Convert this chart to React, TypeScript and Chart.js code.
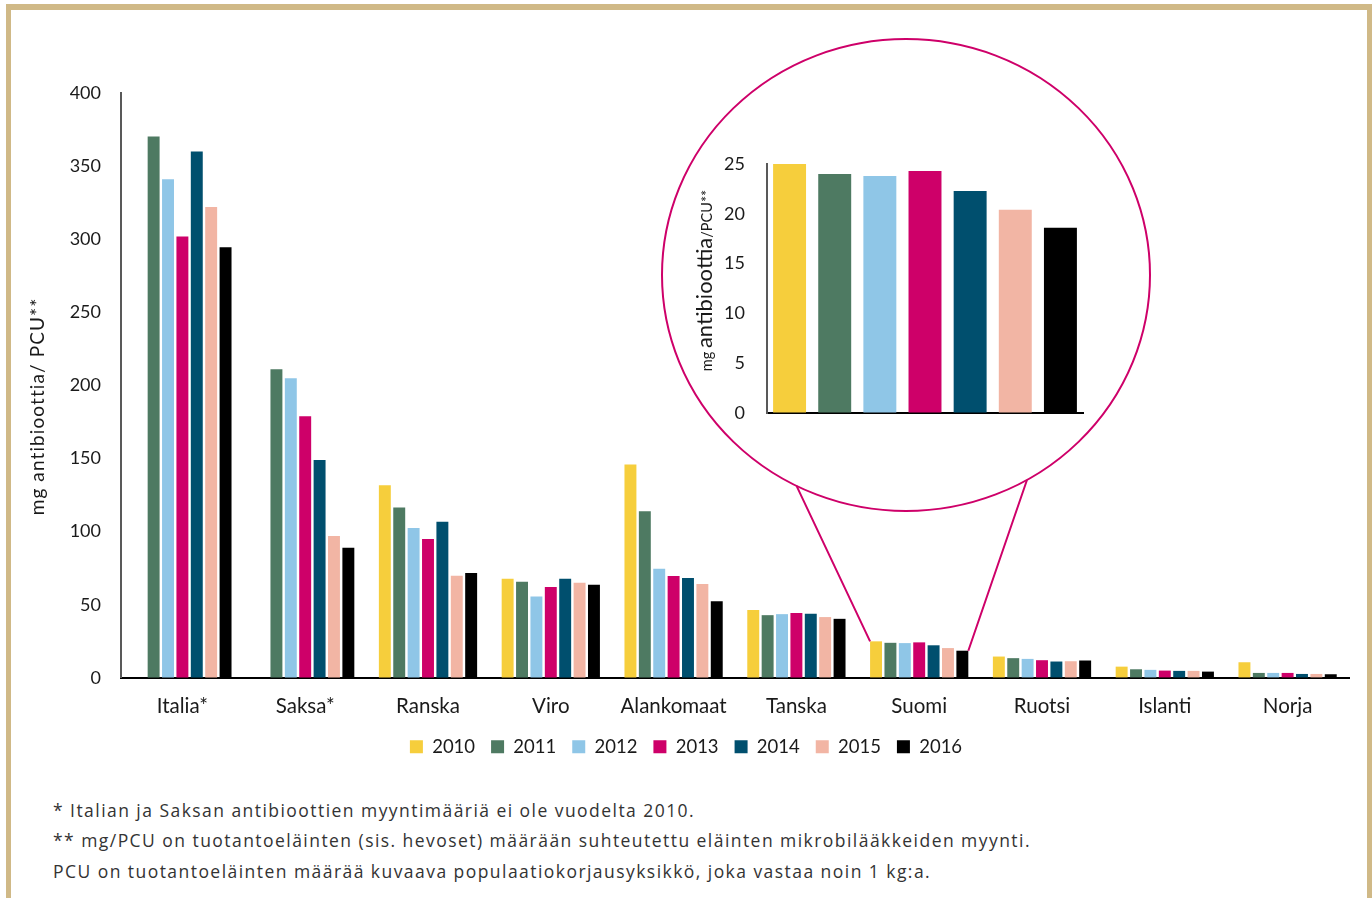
import React, { useEffect, useRef } from "react";
import { Chart, registerables } from "chart.js";

Chart.register(...registerables);

const categories = ["Italia*", "Saksa*", "Ranska", "Viro", "Alankomaat", "Tanska", "Suomi", "Ruotsi", "Islanti", "Norja"];
const years = ["2010", "2011", "2012", "2013", "2014", "2015", "2016"];
const colors = ["#F6CE3C", "#4E7A62", "#8FC6E7", "#CE0069", "#004F6E", "#F2B5A4", "#000000"];

const v2010 = [null, null, 131.8, 67.8, 145.9, 46.4, 25.0, 14.6, 7.7, 10.7];
const v2011 = [370.3, 211, 116.6, 65.8, 113.9, 42.9, 24.0, 13.5, 5.9, 3.4];
const v2012 = [341, 205, 102.5, 55.7, 74.7, 43.6, 23.8, 13.0, 5.5, 3.4];
const v2013 = [301.8, 179, 95, 62.1, 69.7, 44.3, 24.3, 12.1, 5.0, 3.4];
const v2014 = [360, 149, 106.8, 67.8, 68.3, 43.9, 22.3, 11.2, 4.8, 2.7];
const v2015 = [322, 97, 69.9, 65.1, 64.2, 41.6, 20.4, 11.4, 4.8, 2.7];
const v2016 = [294.5, 89, 71.7, 63.7, 52.5, 40.4, 18.6, 11.9, 4.3, 2.5];
const series = [v2010, v2011, v2012, v2013, v2014, v2015, v2016];

const yTicksMain = { min: 0, max: 400, step: 50 };
const yTicksInset = { min: 0, max: 25, step: 5 };
const zoomCategory = "Suomi";

const footnotes = [
  "* Italian ja Saksan antibioottien myyntimääriä ei ole vuodelta 2010.",
  "** mg/PCU on tuotantoeläinten (sis. hevoset) määrään suhteutettu eläinten mikrobilääkkeiden myynti.",
  "PCU on tuotantoeläinten määrää kuvaava populaatiokorjausyksikkö, joka vastaa noin 1 kg:a.",
];

const FONT = "Lato, 'Noto Sans', sans-serif";
const TEXT = "#1a1a1a";
const ACCENT = "#CE0069";

// decoration geometry (ellipse of the zoom inset)
const RING = {
  cx: 906,
  cy: 275,
  rx: 244,
  ry: 236,
  tLeft: Math.atan2(212 / 236, -110 / 244),
  tRight: Math.atan2(205 / 236, 121 / 244),
};

export default function App() {
  const mainRef = useRef<HTMLCanvasElement | null>(null);
  const insetRef = useRef<HTMLCanvasElement | null>(null);

  useEffect(() => {
    const zi = categories.indexOf(zoomCategory);

    const yTitlePlugin = {
      id: "yTitleMain",
      afterDraw(chart: any) {
        const { ctx, chartArea } = chart;
        ctx.save();
        ctx.translate(38, (chartArea.top + chartArea.bottom) / 2 + 21);
        ctx.rotate(-Math.PI / 2);
        ctx.font = `19px ${FONT}`;
        (ctx as any).letterSpacing = "1.1px";
        ctx.fillStyle = TEXT;
        ctx.textAlign = "center";
        ctx.textBaseline = "middle";
        ctx.fillText("mg antibioottia/ PCU**", 0, 0);
        ctx.restore();
      },
    };

    const zoomPlugin = {
      id: "zoomRing",
      afterDraw(chart: any) {
        const { ctx } = chart;
        const first = chart.getDatasetMeta(0).data[zi] as any;
        const last = chart.getDatasetMeta(series.length - 1).data[zi] as any;
        ctx.save();
        ctx.strokeStyle = ACCENT;
        ctx.lineWidth = 2;
        ctx.beginPath();
        ctx.ellipse(RING.cx, RING.cy, RING.rx, RING.ry, 0, 0, Math.PI * 2);
        ctx.fillStyle = "#ffffff";
        ctx.fill();
        ctx.stroke();
        ctx.beginPath();
        ctx.moveTo(RING.cx + RING.rx * Math.cos(RING.tLeft), RING.cy + RING.ry * Math.sin(RING.tLeft));
        ctx.lineTo(first.x - first.width / 2, first.y);
        ctx.moveTo(RING.cx + RING.rx * Math.cos(RING.tRight), RING.cy + RING.ry * Math.sin(RING.tRight));
        ctx.lineTo(last.x + last.width / 2, last.y);
        ctx.stroke();
        ctx.restore();
      },
    };

    const main = new Chart(mainRef.current as HTMLCanvasElement, {
      type: "bar",
      data: {
        labels: categories,
        datasets: series.map((d, i) => ({
          label: years[i],
          data: d as any,
          backgroundColor: colors[i],
          borderWidth: 0,
          categoryPercentage: 0.82,
          barPercentage: 0.83,
        })),
      },
      options: {
        animation: false,
        responsive: true,
        maintainAspectRatio: false,
        layout: { padding: { left: 0, right: 0, top: 93, bottom: 24 } },
        plugins: {
          legend: {
            position: "bottom",
            labels: {
              boxWidth: 13,
              boxHeight: 13,
              padding: 16,
              color: TEXT,
              font: { family: FONT, size: 18.5 },
            },
          },
          tooltip: { enabled: false },
        },
        scales: {
          x: {
            grid: { display: true, drawOnChartArea: false, drawTicks: false },
            border: { color: "#000000", width: 2 },
            ticks: { color: TEXT, font: { family: FONT, size: 20.5 }, padding: 16 },
            afterFit: (s: any) => {
              s.height = s.height - 13;
            },
          },
          y: {
            min: yTicksMain.min,
            max: yTicksMain.max,
            grid: { display: true, drawOnChartArea: false, drawTicks: false },
            border: { color: "#595959", width: 2 },
            ticks: { stepSize: yTicksMain.step, color: TEXT, font: { family: FONT, size: 18 }, padding: 20 },
            afterFit: (s: any) => {
              s.width = 121;
            },
          },
          yRight: {
            position: "right",
            display: true,
            grid: { display: false },
            border: { display: false },
            ticks: { display: false },
            afterFit: (s: any) => {
              s.width = 23;
            },
          },
        },
      },
      plugins: [yTitlePlugin, zoomPlugin],
    });

    const insetTitlePlugin = {
      id: "insetTitle",
      afterDraw(chart: any) {
        const { ctx, chartArea } = chart;
        const parts = [
          { t: "mg ", s: 14.5 },
          { t: "antibioottia", s: 22 },
          { t: "/PCU**", s: 14.5 },
        ];
        ctx.save();
        ctx.translate(chartArea.left - 62, (chartArea.top + chartArea.bottom) / 2 - 8);
        ctx.rotate(-Math.PI / 2);
        ctx.fillStyle = TEXT;
        ctx.textBaseline = "alphabetic";
        ctx.textAlign = "left";
        let total = 0;
        for (const p of parts) {
          ctx.font = `${p.s}px ${FONT}`;
          total += ctx.measureText(p.t).width;
        }
        let x = -total / 2;
        for (const p of parts) {
          ctx.font = `${p.s}px ${FONT}`;
          ctx.fillText(p.t, x, 7);
          x += ctx.measureText(p.t).width;
        }
        ctx.restore();
      },
    };

    const inset = new Chart(insetRef.current as HTMLCanvasElement, {
      type: "bar",
      data: {
        labels: years,
        datasets: [
          {
            label: zoomCategory,
            data: series.map((s) => s[zi] as number),
            backgroundColor: colors,
            borderWidth: 0,
            categoryPercentage: 1,
            barPercentage: 0.73,
          },
        ],
      },
      options: {
        animation: false,
        responsive: true,
        maintainAspectRatio: false,
        layout: { padding: { left: 0, right: 27, top: 40, bottom: 40 } },
        plugins: { legend: { display: false }, tooltip: { enabled: false } },
        scales: {
          x: {
            grid: { display: true, drawOnChartArea: false, drawTicks: false },
            border: { color: "#000000", width: 2 },
            ticks: { display: false },
            afterFit: (s: any) => {
              s.height = 0;
            },
          },
          y: {
            min: yTicksInset.min,
            max: yTicksInset.max,
            grid: { display: true, drawOnChartArea: false, drawTicks: false },
            border: { color: "#595959", width: 2 },
            ticks: { stepSize: yTicksInset.step, color: TEXT, font: { family: FONT, size: 18 }, padding: 22 },
            afterFit: (s: any) => {
              s.width = 77;
            },
          },
        },
      },
      plugins: [insetTitlePlugin],
    });

    return () => {
      main.destroy();
      inset.destroy();
    };
  }, []);

  return (
    <div style={{ position: "absolute", left: 0, top: 0, width: 1372, height: 898, background: "#ffffff", overflow: "hidden" }}>
      <div
        style={{
          position: "absolute",
          left: 6,
          top: 4,
          width: 1366,
          height: 900,
          boxSizing: "border-box",
          borderStyle: "solid",
          borderColor: "#D0B987",
          borderWidth: "6px 5px 0 5px",
        }}
      />
      <div style={{ position: "absolute", left: 0, top: 0, width: 1372, height: 790 }}>
        <canvas ref={mainRef} />
      </div>
      <div style={{ position: "absolute", left: 690, top: 124, width: 420, height: 329 }}>
        <canvas ref={insetRef} />
      </div>
      <div
        style={{
          position: "absolute",
          left: 53,
          top: 795,
          fontFamily: "'Open Sans', sans-serif",
          fontSize: 17.5,
          letterSpacing: "1.45px",
          color: "#333333",
          lineHeight: "30.3px",
          whiteSpace: "nowrap",
        }}
      >
        {footnotes.map((f, i) => (
          <div key={i}>{f}</div>
        ))}
      </div>
    </div>
  );
}
